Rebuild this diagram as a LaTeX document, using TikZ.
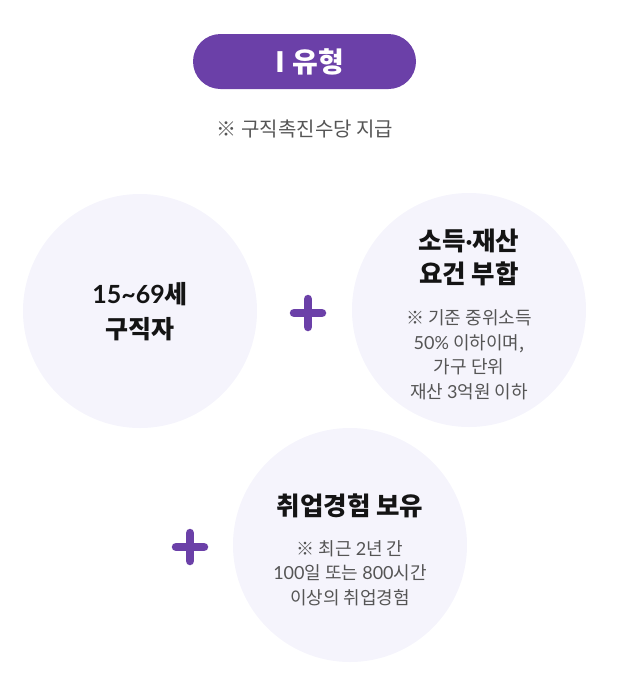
\documentclass[tikz,border=0pt]{standalone}
\usepackage{fontspec}
\setmainfont{Noto Sans CJK KR}
\newfontfamily\latin{Lato}
\usetikzlibrary{positioning}
\definecolor{purp}{RGB}{107,64,168}
\definecolor{lilac}{RGB}{245,244,252}
\definecolor{note}{RGB}{85,85,85}
\definecolor{ink}{RGB}{20,20,20}
\newcommand{\lt}[1]{{\latin #1}}

\begin{document}
\begin{tikzpicture}[x=1pt,y=-1pt,
  bubble/.style={circle, fill=lilac, minimum size=234pt, inner sep=0pt},
  badge/.style={fill=purp, rounded corners=27.5pt, minimum width=223pt, minimum height=55pt},
  title/.style={align=center, text=ink, font=\fontsize{25.5}{33}\selectfont\bfseries},
  small/.style={align=center, text=note, font=\fontsize{18}{24.5}\selectfont},
  plus/.style={draw=purp, line width=8.5pt, line cap=round}]
  \useasboundingbox (0,0) rectangle (636,686);

  \coordinate (T) at (304.5,61.5);
  \coordinate (N) at (305,129);
  \coordinate (A) at (140,311);
  \coordinate (B) at (469,310);
  \coordinate (C) at (350,545);
  \coordinate (P1) at (308,313);
  \coordinate (P2) at (190,547);

  % top
  \node[badge] (typeBadge) at (T) {};
  \node[text=white, font=\fontsize{28}{32}\selectfont\bfseries] (typeLabel) at (310,62) {I\hspace{7pt}유형};
  \node[small, font=\fontsize{20}{24}\selectfont] (payNote) at (N) {※ 구직촉진수당 지급};

  % circles
  \node[bubble] (age) at (A) {};
  \node[bubble] (income) at (B) {};
  \node[bubble] (career) at (C) {};

  \node[title, font=\fontsize{25}{35}\selectfont\bfseries] (ageText) at (140,312) {\lt{15\textasciitilde69}세\\구직자};

  \node[title] (incomeTitle) at (469,257) {소득\lt{·}재산\\요건 부합};
  \node[small] (incomeNote) at (469,355) {※ 기준 중위소득\\\lt{50\%} 이하이며,\\가구 단위\\재산 \lt{3}억원 이하};

  \node[title] (careerTitle) at (350,506) {취업경험 보유};
  \node[small] (careerNote) at (350,573) {※ 최근 \lt{2}년 간\\\lt{100}일 또는 \lt{800}시간\\이상의 취업경험};

  % plus signs
  \draw[plus] ([xshift=-14pt]P1) -- ([xshift=14pt]P1);
  \draw[plus] ([yshift=-14pt]P1) -- ([yshift=14pt]P1);
  \draw[plus] ([xshift=-14pt]P2) -- ([xshift=14pt]P2);
  \draw[plus] ([yshift=-14pt]P2) -- ([yshift=14pt]P2);
\end{tikzpicture}
\end{document}
